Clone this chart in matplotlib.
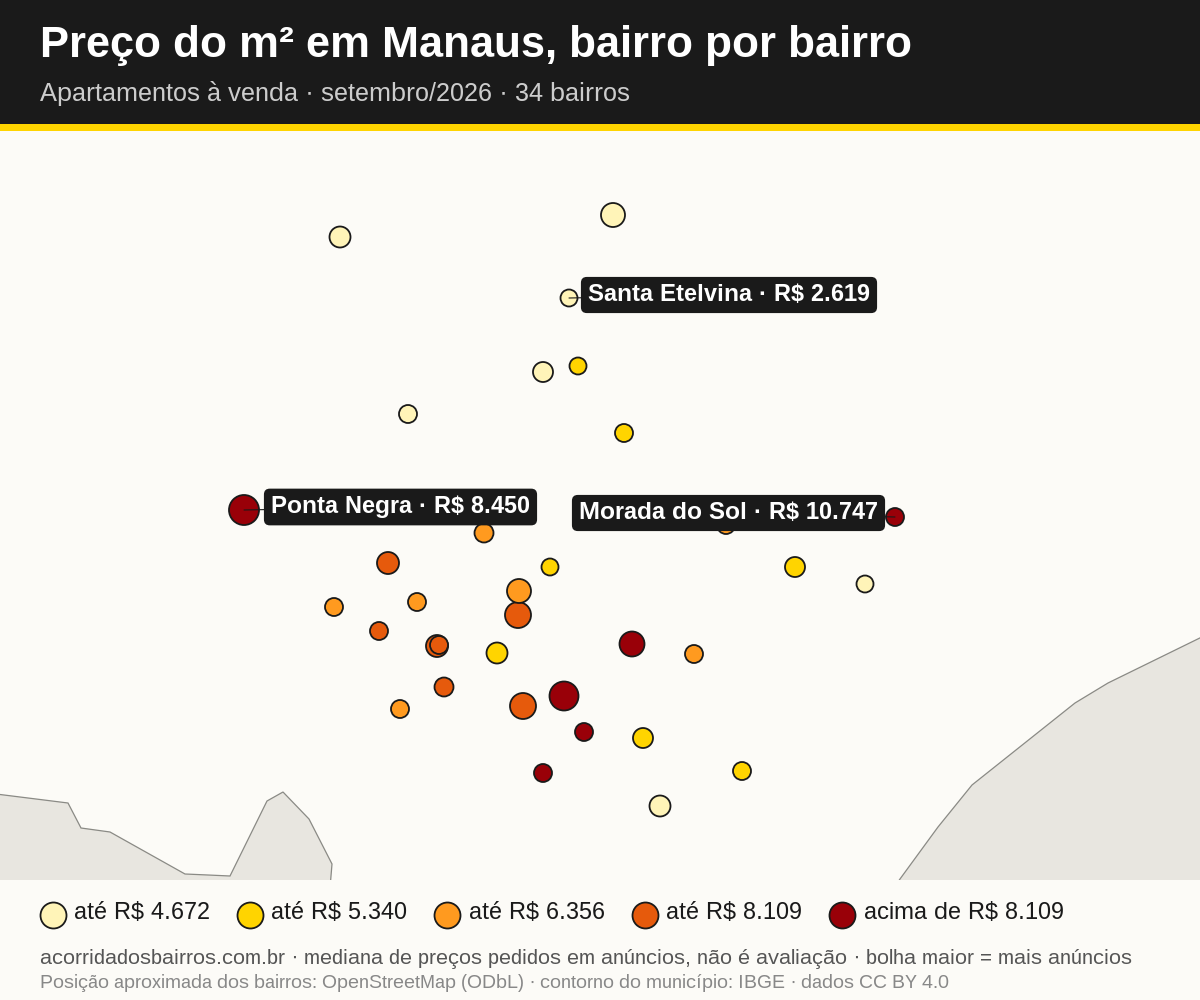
import matplotlib
matplotlib.use("Agg")
import matplotlib.pyplot as plt
from matplotlib.patches import Polygon, Rectangle

plt.rcParams['font.family'] = ['Liberation Sans', 'DejaVu Sans']
plt.rcParams['text.hinting'] = 'native'
plt.rcParams['text.hinting_factor'] = 1

BG = '#FCFBF7'
INK = '#1A1A1A'
class_colors = ['#FFF4B8', '#FFD400', '#FF9A1F', '#E65A0C', '#990008']
class_labels = ['até R$ 4.672', 'até R$ 5.340', 'até R$ 6.356', 'até R$ 8.109', 'acima de R$ 8.109']

pt_x = [613, 340, 569, 543, 408, 865, 660,
        578, 624, 550, 795, 497, 643, 742,
        484, 726, 334, 417, 519, 694, 400,
        388, 518, 379, 437, 439, 444, 523,
        244, 895, 632, 564, 584, 543]
pt_y = [215, 237, 298, 372, 414, 584, 806,
        366, 433, 567, 567, 653, 738, 771,
        533, 525, 607, 602, 591, 654, 709,
        563, 615, 631, 646, 645, 687, 706,
        510, 517, 644, 696, 732, 773]
pt_d = [24, 21, 17, 20, 18, 17, 21,
        17, 18, 17, 20, 21, 20, 18,
        19, 18, 18, 18, 24, 18, 18,
        22, 26, 18, 22, 18, 19, 26,
        30, 18, 25, 29, 18, 18]
pt_c = [0]*7 + [1]*7 + [2]*7 + [3]*7 + [4]*6

land_left_x = [-10, 0, 68, 81, 110, 185, 208, 230, 267, 283, 309, 332, 329, -10]
land_left_y = [793, 794.5, 803, 828, 832, 874, 875, 876, 801, 792, 819, 864, 900, 900]
land_right_x = [886, 900, 938, 972, 1075, 1108, 1210, 1210]
land_right_y = [900, 879, 827, 785, 703, 683, 633, 900]

labels = [
    ('Santa Etelvina · R$ 2.619', 569, 298, 19, 3, 'left'),
    ('Ponta Negra · R$ 8.450', 244, 510, 27, 3, 'left'),
    ('Morada do Sol · R$ 10.747', 895, 517, -17, 4, 'right'),
]

fig = plt.figure(figsize=(12, 10), dpi=100, facecolor=BG)

page = fig.add_axes([0, 0, 1, 1], zorder=1)
page.set_xlim(0, 1200); page.set_ylim(1000, 0); page.axis('off')
page.add_patch(Rectangle((0, 0), 1200, 124, fc=INK, ec='none'))
page.add_patch(Rectangle((0, 124), 1200, 7, fc='#FFD400', ec='none'))
page.text(40, 45, 'Preço do m² em Manaus, bairro por bairro', color='white',
          fontsize=32, fontweight='bold', va='center', ha='left')
page.text(40, 94, 'Apartamentos à venda · setembro/2026 · 34 bairros', color='#CCCCCC',
          fontsize=18.6, va='center', ha='left')

legend_mx = [53, 250.4, 447.4, 645.4, 842.4]
legend_tx = [74, 271, 469, 666, 864]
for mx, tx, col, lab in zip(legend_mx, legend_tx, class_colors, class_labels):
    page.scatter([mx], [915], s=(26*0.72)**2, c=col, edgecolors=INK, linewidths=1.3)
    page.text(tx, 913, lab, color=INK, fontsize=17.05, va='center', ha='left')

page.text(40, 959, 'acorridadosbairros.com.br · mediana de preços pedidos em anúncios, não é avaliação · bolha maior = mais anúncios',
          color='#555555', fontsize=15.1, va='center', ha='left')
page.text(40, 983, 'Posição aproximada dos bairros: OpenStreetMap (ODbL) · contorno do município: IBGE · dados CC BY 4.0',
          color='#888888', fontsize=13.6, va='center', ha='left')

ax = fig.add_axes([0, 120/1000, 1, 749/1000], zorder=2)
ax.set_xlim(0, 1200); ax.set_ylim(880, 131); ax.axis('off')
ax.patch.set_alpha(0)
for xs, ys in ((land_left_x, land_left_y), (land_right_x, land_right_y)):
    ax.add_patch(Polygon(list(zip(xs, ys)), closed=True, fc='#E8E6E0', ec='#8A8A85', lw=0.9))

order = sorted(range(len(pt_x)), key=lambda i: -pt_d[i])
ax.scatter([pt_x[i] for i in order], [pt_y[i] for i in order],
           s=[(pt_d[i]*0.72)**2 for i in order],
           c=[class_colors[pt_c[i]] for i in order],
           edgecolors=INK, linewidths=1.3, zorder=3)

for txt, x, y, dx, dy, ha in labels:
    ax.annotate(txt, xy=(x, y), xytext=(dx, dy), textcoords='offset pixels',
                ha=ha, va='center', color='white', fontsize=17, fontweight='bold',
                bbox=dict(boxstyle='round,pad=0.3,rounding_size=0.25', fc=INK, ec='none'),
                arrowprops=dict(arrowstyle='-', color=INK, lw=0.8, shrinkA=0, shrinkB=0),
                zorder=4)

fig.savefig('out.png', dpi=100, facecolor=BG)
